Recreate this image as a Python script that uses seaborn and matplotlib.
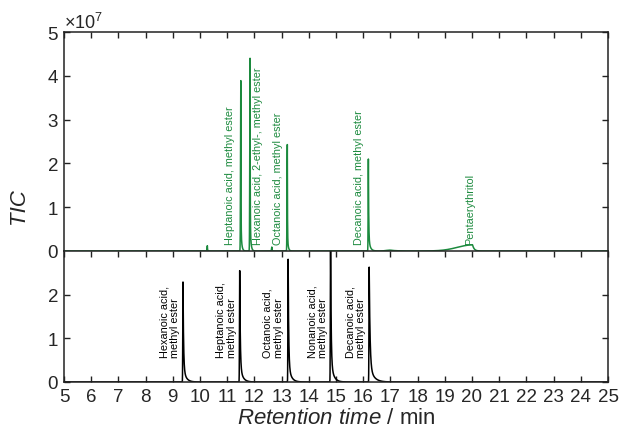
import numpy as np
import pandas as pd
import matplotlib
matplotlib.use("Agg")
import matplotlib.pyplot as plt
import seaborn as sns
from matplotlib.ticker import ScalarFormatter

# ---------------- data ----------------
# top trace (sample, green): retention times [min], heights [TIC]
top_rt = [10.27, 11.50, 11.84, 12.64, 13.21, 16.19, 17.00, 20.02]
top_height = [0.12e7, 3.89e7, 4.40e7, 0.09e7, 2.43e7, 2.10e7, 0.02e7, 0.14e7]
top_rise = [0.010, 0.010, 0.010, 0.010, 0.010, 0.008, 0.15, 0.55]
top_tail = [0.030, 0.030, 0.030, 0.030, 0.030, 0.060, 0.20, 0.06]
top_fast = [0.85, 0.85, 0.85, 0.85, 0.85, 0.85, 0.0, 0.0]

# bottom trace (standards, black)
bot_rt = [9.375, 11.46, 13.24, 14.80, 16.22]
bot_height = [2.29e7, 2.55e7, 2.81e7, 3.30e7, 2.63e7]
bot_rise = [0.008, 0.008, 0.008, 0.008, 0.008]
bot_tail = [0.10, 0.10, 0.10, 0.10, 0.15]
bot_fast = [0.85, 0.85, 0.85, 0.85, 0.85]

top_labels = ["Heptanoic acid, methyl ester",
              "Hexanoic acid, 2-ethyl-, methyl ester",
              "Octanoic acid, methyl ester",
              "Decanoic acid, methyl ester",
              "Pentaerythritol"]
top_label_x = [11.10, 12.13, 12.87, 15.86, 19.93]

bot_labels = ["Hexanoic acid,\nmethyl ester",
              "Heptanoic acid,\nmethyl ester",
              "Octanoic acid,\nmethyl ester",
              "Nonanoic acid,\nmethyl ester",
              "Decanoic acid,\nmethyl ester"]
bot_label_x = [8.88, 10.98, 12.69, 14.32, 15.72]

x_ticks = list(range(5, 26))
top_yticks = [0, 1e7, 2e7, 3e7, 4e7, 5e7]
bot_yticks = [0, 1e7, 2e7]

GREEN = "#1c8a3e"


def trace(t, rts, hs, rises, tails, fasts):
    y = np.zeros_like(t)
    for rt, h, s, tau, f in zip(rts, hs, rises, tails, fasts):
        left = h * np.exp(-0.5 * ((t - rt) / s) ** 2)
        dt = np.clip(t - rt, 0, None)
        right = h * (f * np.exp(-dt / (tau * 0.2)) + (1 - f) * np.exp(-dt / tau))
        y += np.where(t < rt, left, right)
    return y


t = np.linspace(5, 25, 40001)
df_top = pd.DataFrame({"time": t, "TIC": trace(t, top_rt, top_height, top_rise, top_tail, top_fast)})
df_bot = pd.DataFrame({"time": t, "TIC": trace(t, bot_rt, bot_height, bot_rise, bot_tail, bot_fast)})

# ---------------- styling ----------------
sns.set_theme(style="ticks")
plt.rcParams["font.family"] = ["Liberation Sans", "DejaVu Sans"]
plt.rcParams["mathtext.fontset"] = "custom"
plt.rcParams["mathtext.rm"] = "Liberation Sans"
plt.rcParams["mathtext.it"] = "Liberation Sans:italic"

fig = plt.figure(figsize=(6.2, 4.39), dpi=100)
L, W = 64 / 620, (608 - 64) / 620
ax_top = fig.add_axes([L, (439 - 252) / 439, W, (252 - 33) / 439])
ax_bot = fig.add_axes([L, (439 - 383) / 439, W, (383 - 252) / 439])

sns.lineplot(data=df_top, x="time", y="TIC", ax=ax_top, color=GREEN,
             lw=1.1, estimator=None, sort=False, zorder=5)
sns.lineplot(data=df_bot, x="time", y="TIC", ax=ax_bot, color="black",
             lw=1.1, estimator=None, sort=False)

ax_top.set_ylim(0, 5e7)
ax_bot.set_ylim(0, 3.0e7)
for ax in (ax_top, ax_bot):
    ax.set_xlim(5, 25)
    ax.set_xticks(x_ticks)
    ax.set_xlabel("")
    ax.set_ylabel("")
    ax.tick_params(direction="in", top=True, right=True, length=4.5,
                   width=1.0, labelsize=13.5, color="#222222", pad=4)
    for sp in ax.spines.values():
        sp.set_color("#222222")
        sp.set_linewidth(1.1)
    fmt = ScalarFormatter(useMathText=True)
    fmt.set_powerlimits((7, 7))
    ax.yaxis.set_major_formatter(fmt)

ax_top.set_yticks(top_yticks)
ax_bot.set_yticks(bot_yticks)
ax_top.tick_params(axis="x", bottom=False, labelbottom=False)
ax_top.spines["bottom"].set_visible(False)
ax_top.yaxis.get_offset_text().set_fontsize(13)
ax_bot.yaxis.get_offset_text().set_visible(False)

for lab, x in zip(top_labels, top_label_x):
    ax_top.text(x, 0.15e7, lab, rotation=90, ha="center", va="bottom",
                color=GREEN, fontsize=7.8)
for lab, x in zip(bot_labels, bot_label_x):
    ax_bot.text(x, 0.57e7, lab, rotation=90, ha="center", va="bottom",
                multialignment="left", color="black", fontsize=7.8,
                linespacing=1.1)

ax_bot.set_xlabel(r"$\mathit{Retention\ time}$ / min", fontsize=16, labelpad=2)
fig.text(18 / 620, 1 - 206 / 439, "TIC", rotation=90, fontsize=16,
         style="italic", ha="center", va="center")

fig.savefig("out.png", dpi=100)
